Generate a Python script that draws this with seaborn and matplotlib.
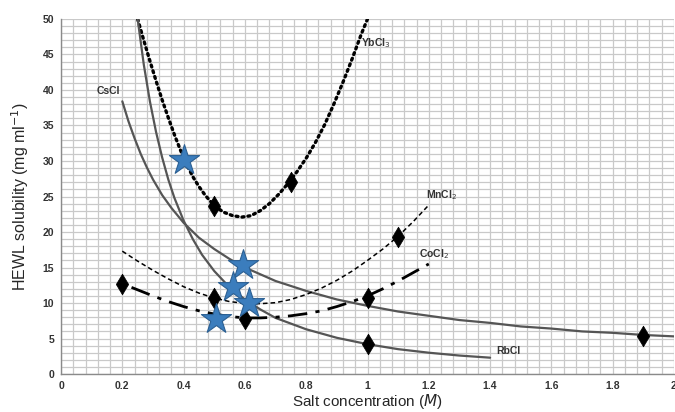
import numpy as np
import pandas as pd
import seaborn as sns
import matplotlib.pyplot as plt
from matplotlib.ticker import MultipleLocator

# fitted curves
ybcl3_x = [0.25, 0.27, 0.29, 0.31, 0.33, 0.35, 0.37, 0.39, 0.41, 0.43, 0.45,
           0.47, 0.50, 0.53, 0.56, 0.59, 0.62, 0.65, 0.68, 0.71, 0.74, 0.77,
           0.80, 0.83, 0.86, 0.89, 0.92, 0.95, 0.98, 1.00]
ybcl3_y = [50.0, 47.0, 44.1, 41.3, 38.6, 36.1, 33.7, 31.5, 29.5, 27.8, 26.4,
           25.2, 23.7, 22.8, 22.3, 22.1, 22.3, 23.0, 24.0, 25.3, 26.8, 28.5,
           30.4, 32.6, 35.1, 38.0, 41.1, 44.4, 47.9, 50.0]

cscl_x = [0.20, 0.22, 0.24, 0.26, 0.28, 0.30, 0.33, 0.36, 0.40, 0.45, 0.50,
          0.55, 0.60, 0.70, 0.80, 0.90, 1.00, 1.10, 1.20, 1.30, 1.40, 1.50,
          1.60, 1.70, 1.80, 1.90, 2.00]
cscl_y = [38.4, 35.6, 33.2, 31.0, 29.1, 27.4, 25.2, 23.4, 21.3, 19.2, 17.6,
          16.2, 15.0, 13.1, 11.7, 10.5, 9.6, 8.8, 8.2, 7.6, 7.2, 6.7,
          6.4, 6.0, 5.8, 5.5, 5.3]

rbcl_x = [0.25, 0.27, 0.29, 0.31, 0.33, 0.35, 0.37, 0.40, 0.43, 0.46, 0.50,
          0.55, 0.60, 0.65, 0.70, 0.80, 0.90, 1.00, 1.10, 1.20, 1.30, 1.40]
rbcl_y = [50.0, 43.6, 38.4, 34.1, 30.5, 27.4, 24.8, 21.6, 19.0, 16.8, 14.5,
          12.2, 10.5, 9.1, 7.9, 6.3, 5.1, 4.2, 3.5, 3.0, 2.6, 2.3]

mncl2_x = [0.20, 0.25, 0.30, 0.35, 0.40, 0.45, 0.50, 0.55, 0.60, 0.65, 0.70,
           0.75, 0.80, 0.85, 0.90, 0.95, 1.00, 1.05, 1.10, 1.15, 1.20]
mncl2_y = [17.3, 15.9, 14.6, 13.4, 12.3, 11.4, 10.7, 10.2, 9.95, 9.9, 10.05,
           10.5, 11.2, 12.1, 13.2, 14.5, 16.0, 17.6, 19.4, 21.5, 23.8]

cocl2_x = [0.23, 0.30, 0.35, 0.40, 0.45, 0.50, 0.55, 0.60, 0.65, 0.70, 0.75,
           0.80, 0.85, 0.90, 0.95, 1.00, 1.05, 1.10, 1.15, 1.20]
cocl2_y = [12.2, 11.0, 10.2, 9.5, 8.9, 8.45, 8.1, 7.9, 7.9, 8.0, 8.2,
           8.5, 8.9, 9.5, 10.2, 11.0, 12.0, 13.1, 14.3, 15.5]

# measured points
diamond_x = [0.2, 0.5, 0.5, 0.6, 0.75, 1.0, 1.0, 1.1, 1.9]
diamond_y = [12.7, 23.6, 10.7, 7.7, 27.1, 10.7, 4.2, 19.3, 5.4]

star_x = [0.40, 0.594, 0.562, 0.614, 0.507]
star_y = [30.2, 15.4, 12.3, 10.0, 7.8]

labels = ["CsCl", "YbCl$_3$", "MnCl$_2$", "CoCl$_2$", "RbCl"]
label_x = [0.115, 0.98, 1.19, 1.168, 1.42]
label_y = [39.8, 46.6, 25.2, 16.9, 3.2]

sns.set_style("white")
plt.rcParams["font.family"] = ["Liberation Sans", "DejaVu Sans"]

fig = plt.figure(figsize=(6.75, 4.12), dpi=100)
ax = fig.add_axes([0.0904, 0.0922, 0.9081, 0.8617])

curve_styles = [
    (ybcl3_x, ybcl3_y, dict(color="black", lw=2.4, linestyle=(0, (0.6, 1.2)),
                            dash_capstyle="round")),
    (cscl_x, cscl_y, dict(color="#555555", lw=1.6)),
    (rbcl_x, rbcl_y, dict(color="#555555", lw=1.6)),
    (mncl2_x, mncl2_y, dict(color="black", lw=1.1, linestyle=(0, (3, 2)))),
    (cocl2_x, cocl2_y, dict(color="black", lw=2.0, linestyle=(0, (7, 3, 1.5, 3)))),
]
for cx, cy, style in curve_styles:
    df = pd.DataFrame({"x": cx, "y": cy})
    sns.lineplot(data=df, x="x", y="y", sort=False, ax=ax, zorder=3, **style)

sns.scatterplot(x=diamond_x, y=diamond_y, marker="d", s=110, color="black",
                edgecolor="black", linewidth=0.5, ax=ax, zorder=4)
sns.scatterplot(x=star_x, y=star_y, marker="*", s=520, color="#3b7dbd",
                edgecolor="#2b5f92", linewidth=0.8, ax=ax, zorder=5)

for t, lx, ly in zip(labels, label_x, label_y):
    ax.text(lx, ly, t, fontsize=7.5, fontweight="bold", color="#333333",
            va="center", ha="left", zorder=6)

ax.set_xlim(0, 2)
ax.set_ylim(0, 50)
ax.xaxis.set_major_locator(MultipleLocator(0.2))
ax.xaxis.set_minor_locator(MultipleLocator(0.04))
ax.yaxis.set_major_locator(MultipleLocator(5))
ax.yaxis.set_minor_locator(MultipleLocator(1))
ax.grid(which="both", color="#c9c9c9", lw=0.9, zorder=0)
ax.set_axisbelow(True)
ax.set_xticks(np.arange(0, 2.01, 0.2))
ax.set_xticklabels(["0", "0.2", "0.4", "0.6", "0.8", "1", "1.2", "1.4", "1.6", "1.8", "2"])
ax.tick_params(axis="both", which="major", labelsize=7.5, colors="#333333",
               length=0, pad=5)
ax.tick_params(which="minor", length=0)
for lab in ax.get_xticklabels() + ax.get_yticklabels():
    lab.set_fontweight("bold")

for side in ["top", "right"]:
    ax.spines[side].set_visible(False)
for side in ["left", "bottom"]:
    ax.spines[side].set_color("#8a8a8a")
    ax.spines[side].set_linewidth(1.0)

ax.set_xlabel("Salt concentration ($\\mathit{M}$)", fontsize=11, labelpad=1)
ax.set_ylabel("HEWL solubility (mg ml$^{-1}$)", fontsize=11.5, labelpad=8)

fig.savefig("out.png", dpi=100)
